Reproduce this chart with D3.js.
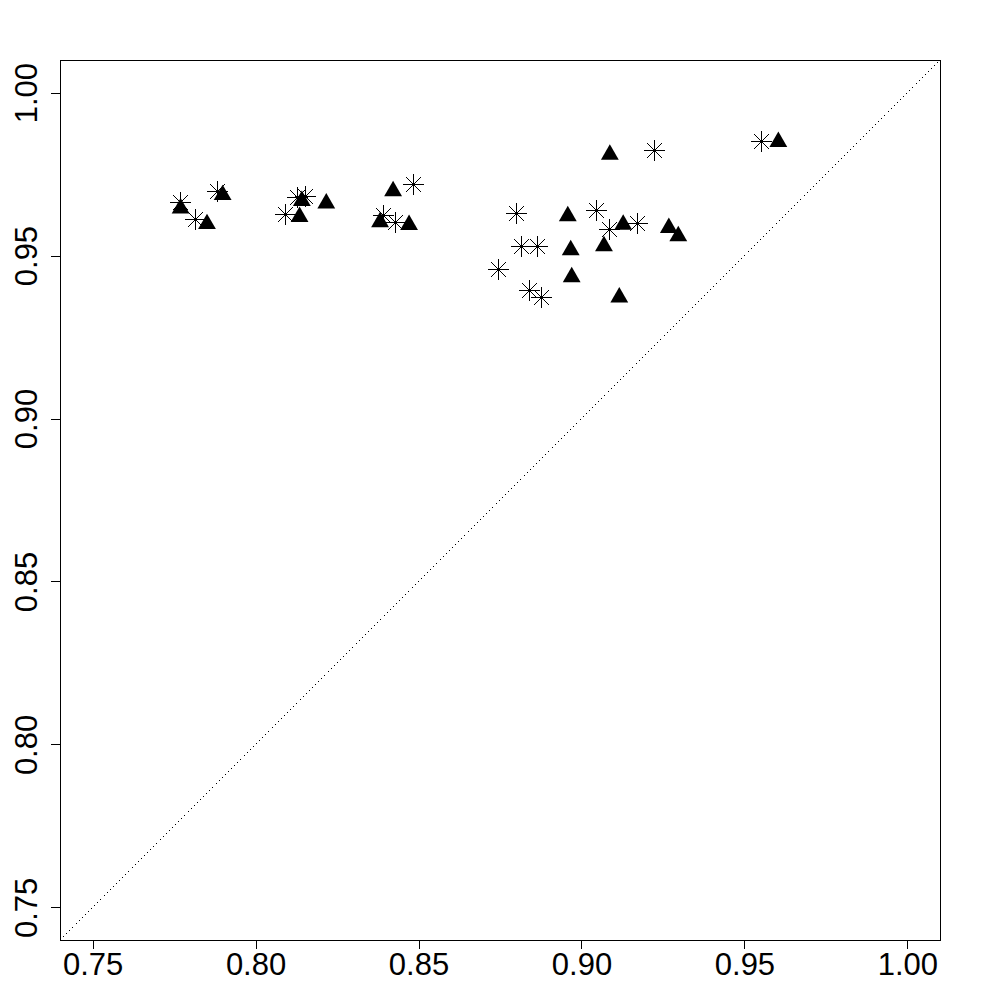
<!DOCTYPE html>
<html>
<head>
<meta charset="utf-8">
<script src="https://d3js.org/d3.v7.min.js"></script>
<style>
  body { margin: 0; background: #fff; }
  svg { display: block; }
</style>
</head>
<body>
<div id="chart"></div>
<script>
// values
var triX = [0.7770, 0.7851, 0.7899, 0.8142, 0.8217, 0.8135, 0.8422, 0.8382, 0.8471,
            0.9087, 0.8958, 0.9128, 0.9268, 0.9297, 0.9069, 0.8967, 0.8970, 0.9116, 0.9604];
var triY = [0.9645, 0.9597, 0.9686, 0.9668, 0.9660, 0.9619, 0.9698, 0.9603, 0.9594,
            0.9810, 0.9621, 0.9595, 0.9585, 0.9560, 0.9529, 0.9517, 0.9434, 0.9372, 0.9849];
var starX = [0.7768, 0.7814, 0.7882, 0.8126, 0.8152, 0.8089, 0.8484, 0.8390, 0.8428, 0.9223,
             0.8799, 0.9045, 0.9169, 0.9085, 0.8814, 0.8863, 0.8743, 0.8840, 0.8876, 0.9550];
var starY = [0.9663, 0.9611, 0.9698, 0.9679, 0.9683, 0.9629, 0.9721, 0.9623, 0.9603, 0.9823,
             0.9632, 0.9641, 0.9601, 0.9580, 0.9528, 0.9528, 0.9460, 0.9395, 0.9373, 0.9853];
var ticks = [0.75, 0.80, 0.85, 0.90, 0.95, 1.00];
var limits = [0.74, 1.01];

var width = 1000, height = 1000;
// plot region (note: "top" is taken by window.top, so use a margin object)
var m = {left: 60, right: 940, top: 60, bottom: 940};

var svg = d3.select("#chart").append("svg")
    .attr("width", width)
    .attr("height", height);

var x = d3.scaleLinear().domain(limits).range([m.left, m.right]);
var y = d3.scaleLinear().domain(limits).range([m.bottom, m.top]);

// dotted 1:1 line
svg.append("line")
    .attr("x1", x(limits[0])).attr("y1", y(limits[0]))
    .attr("x2", x(limits[1])).attr("y2", y(limits[1]))
    .attr("stroke", "#000")
    .attr("stroke-width", 1)
    .attr("stroke-dasharray", "1.4,3")
    .attr("shape-rendering", "crispEdges");

// axes
var xAxis = svg.append("g")
    .attr("transform", "translate(0," + m.bottom + ")")
    .call(d3.axisBottom(x).tickValues(ticks).tickFormat(d3.format(".2f")).tickSize(9));
var yAxis = svg.append("g")
    .attr("transform", "translate(" + m.left + ",0)")
    .call(d3.axisLeft(y).tickValues(ticks).tickFormat(d3.format(".2f")).tickSize(9));

[xAxis, yAxis].forEach(function(g) {
  g.select(".domain").remove();
  g.selectAll("line").attr("stroke", "#000").attr("shape-rendering", "crispEdges");
  g.selectAll("text")
    .attr("fill", "#000")
    .style("font-family", "Arial, 'Liberation Sans', sans-serif")
    .style("font-size", "31px");
});
xAxis.selectAll("text").attr("y", 35).attr("dy", 0);
yAxis.selectAll("text")
    .attr("text-anchor", "middle")
    .attr("transform", "rotate(-90)")
    .attr("x", 0)
    .attr("y", -23)
    .attr("dy", 0);

// box
svg.append("rect")
    .attr("x", m.left + 0.5).attr("y", m.top + 0.5)
    .attr("width", m.right - m.left).attr("height", m.bottom - m.top)
    .attr("fill", "none")
    .attr("stroke", "#000")
    .attr("stroke-width", 1)
    .attr("shape-rendering", "crispEdges");

// filled triangles
var r = 10.3;
var triPath = "M0," + (-r) + "L" + (r * 0.866) + "," + (r / 2) + "L" + (-r * 0.866) + "," + (r / 2) + "Z";
svg.selectAll(".tri")
    .data(d3.range(triX.length))
    .enter().append("path")
    .attr("class", "tri")
    .attr("d", triPath)
    .attr("transform", function(i) { return "translate(" + x(triX[i]) + "," + y(triY[i]) + ")"; })
    .attr("fill", "#000");

// asterisks (plus + cross)
var p = 10.8, c = 7.6;
var starPath = "M" + (-p) + ",0H" + p + "M0," + (-p) + "V" + p +
    "M" + (-c) + "," + (-c) + "L" + c + "," + c + "M" + (-c) + "," + c + "L" + c + "," + (-c);
svg.selectAll(".star")
    .data(d3.range(starX.length))
    .enter().append("path")
    .attr("class", "star")
    .attr("d", starPath)
    .attr("transform", function(i) {
      return "translate(" + (Math.round(x(starX[i])) + 0.5) + "," + (Math.round(y(starY[i])) + 0.5) + ")";
    })
    .attr("fill", "none")
    .attr("stroke", "#000")
    .attr("stroke-width", 1)
    .attr("shape-rendering", "crispEdges");
</script>
</body>
</html>
